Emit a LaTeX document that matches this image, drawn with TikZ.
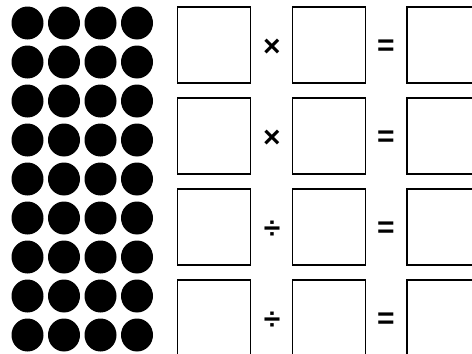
\documentclass[tikz,border=0pt]{standalone}
\usepackage{fontspec}
\setmainfont{Liberation Sans}
\begin{document}
\begin{tikzpicture}[x=1pt,y=-1pt,
  dot/.style={fill=black,draw=none},
  answerbox/.style={draw=black,line width=1.2pt,minimum width=73pt,minimum height=76pt,inner sep=0pt,outer sep=0pt},
  opsym/.style={font=\fontsize{30}{30}\selectfont\bfseries,inner sep=0pt}]
\clip (0,0) rectangle (472,354);
\useasboundingbox (0,0) rectangle (472,354);
\foreach \r in {0,...,8}{
  \foreach \c in {0,...,3}{
    \fill[dot] ({27.5+36.5*\c},{23+39*\r}) ellipse [x radius=16pt,y radius=16.5pt];
  }
}
\foreach \r/\op in {0/×,1/×,2/÷,3/÷}{
  \node[answerbox] (a\r) at (214,{45+91*\r}) {};
  \node[answerbox] (b\r) at (329,{45+91*\r}) {};
  \node[answerbox] (c\r) at (443.5,{45+91*\r}) {};
  \node[opsym] (op\r) at (272,{48+91*\r}) {\op};
  \node[opsym] (eq\r) at (386,{48+91*\r}) {=};
}
\end{tikzpicture}
\end{document}
